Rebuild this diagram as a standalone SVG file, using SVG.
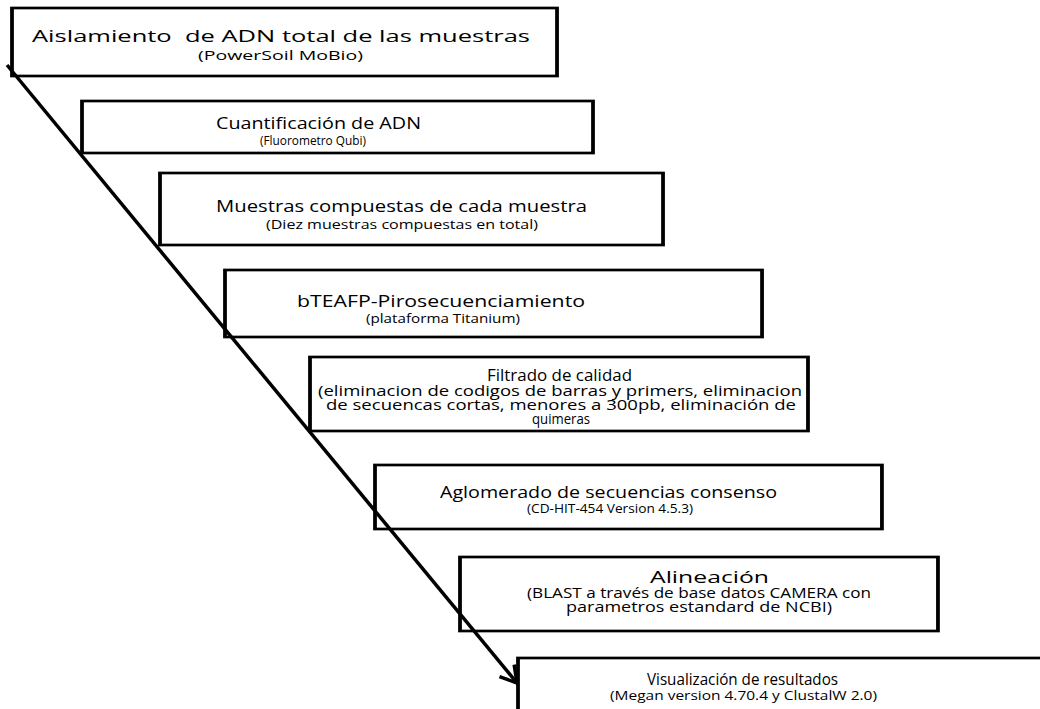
<svg xmlns="http://www.w3.org/2000/svg" width="1040" height="709" viewBox="0 0 1040 709">
  <style>
    .box { fill: #ffffff; stroke: #000000; stroke-width: 2.7; }
    text { font-family: "Open Sans", "Noto Sans", "Liberation Sans", sans-serif; fill: #000000; text-anchor: middle; }
    .t { font-size: 17px; }
    .s { font-size: 13px; }
    .d { font-size: 14px; }
    .conn { stroke: #000000; stroke-width: 3.5; fill: none; }
  </style>
  <defs>
    <marker id="arrow" markerUnits="userSpaceOnUse" markerWidth="30" markerHeight="30" refX="0" refY="0" viewBox="-20 -15 25 30" orient="auto" overflow="visible">
      <path d="M-16,-9.5 L0,0 L-16,9.5" fill="none" stroke="#000000" stroke-width="3.5" stroke-linejoin="miter"/>
    </marker>
  </defs>
  <rect width="1040" height="709" fill="#ffffff"/>

  <g id="n1">
    <g transform="translate(12 0) scale(1.4 1)"><rect class="box" x="0" y="8" width="389.3" height="68"/></g>
    <text class="t" x="281" y="42" textLength="498" lengthAdjust="spacingAndGlyphs" xml:space="preserve">Aislamiento  de ADN total de las muestras</text>
    <text class="s" x="280.5" y="60" textLength="165" lengthAdjust="spacingAndGlyphs">(PowerSoil MoBio)</text>
  </g>

  <g id="n2">
    <g transform="translate(82 0) scale(1.4 1)"><rect class="box" x="0" y="101" width="365" height="52"/></g>
    <text class="t" x="318.5" y="129" textLength="205" lengthAdjust="spacingAndGlyphs">Cuantificación de ADN</text>
    <text class="s" x="313" y="145" textLength="106" lengthAdjust="spacingAndGlyphs">(Fluorometro Qubi)</text>
  </g>

  <g id="n3">
    <g transform="translate(160 0) scale(1.4 1)"><rect class="box" x="0" y="173" width="359.3" height="72"/></g>
    <text class="t" x="401.5" y="212" textLength="371" lengthAdjust="spacingAndGlyphs">Muestras compuestas de cada muestra</text>
    <text class="s" x="402" y="229" textLength="272" lengthAdjust="spacingAndGlyphs">(Diez muestras compuestas en total)</text>
  </g>

  <g id="n4">
    <g transform="translate(225 0) scale(1.4 1)"><rect class="box" x="0" y="270" width="383.6" height="67"/></g>
    <text class="t" x="441" y="307" textLength="288" lengthAdjust="spacingAndGlyphs">bTEAFP-Pirosecuenciamiento</text>
    <text class="s" x="443" y="323" textLength="154" lengthAdjust="spacingAndGlyphs">(plataforma Titanium)</text>
  </g>

  <g id="n5">
    <g transform="translate(310 0) scale(1.4 1)"><rect class="box" x="0" y="357" width="355.7" height="74"/></g>
    <text class="t" x="559.5" y="381" textLength="145" lengthAdjust="spacingAndGlyphs">Filtrado de calidad</text>
    <text class="d" x="560" y="396" textLength="484" lengthAdjust="spacingAndGlyphs">(eliminacion de codigos de barras y primers, eliminacion</text>
    <text class="d" x="561" y="410" textLength="470" lengthAdjust="spacingAndGlyphs">de secuencas cortas, menores a 300pb, eliminación de</text>
    <text class="d" x="561" y="424" textLength="58" lengthAdjust="spacingAndGlyphs">quimeras</text>
  </g>

  <g id="n6">
    <g transform="translate(375 0) scale(1.4 1)"><rect class="box" x="0" y="465" width="362.1" height="64"/></g>
    <text class="t" x="608.5" y="498" textLength="337" lengthAdjust="spacingAndGlyphs">Aglomerado de secuencias consenso</text>
    <text class="s" x="610" y="513" textLength="166" lengthAdjust="spacingAndGlyphs">(CD-HIT-454 Version 4.5.3)</text>
  </g>

  <g id="n7">
    <g transform="translate(460 0) scale(1.4 1)"><rect class="box" x="0" y="557" width="341.4" height="74"/></g>
    <text class="t" x="709.5" y="583" textLength="119" lengthAdjust="spacingAndGlyphs">Alineación</text>
    <text class="d" x="699" y="598" textLength="344" lengthAdjust="spacingAndGlyphs">(BLAST a través de base datos CAMERA con</text>
    <text class="d" x="699" y="612" textLength="266" lengthAdjust="spacingAndGlyphs">parametros estandard de NCBI)</text>
  </g>

  <g id="n8">
    <g transform="translate(518 0) scale(1.4 1)"><rect class="box" x="0" y="658" width="387" height="62"/></g>
    <text class="t" x="742.5" y="685" textLength="191" lengthAdjust="spacingAndGlyphs">Visualización de resultados</text>
    <text class="s" x="743.5" y="700" textLength="267" lengthAdjust="spacingAndGlyphs">(Megan version 4.70.4 y ClustalW 2.0)</text>
  </g>

  <g id="connectors">
    <line class="conn" x1="7" y1="65" x2="517" y2="683" marker-end="url(#arrow)"/>
  </g>
</svg>
